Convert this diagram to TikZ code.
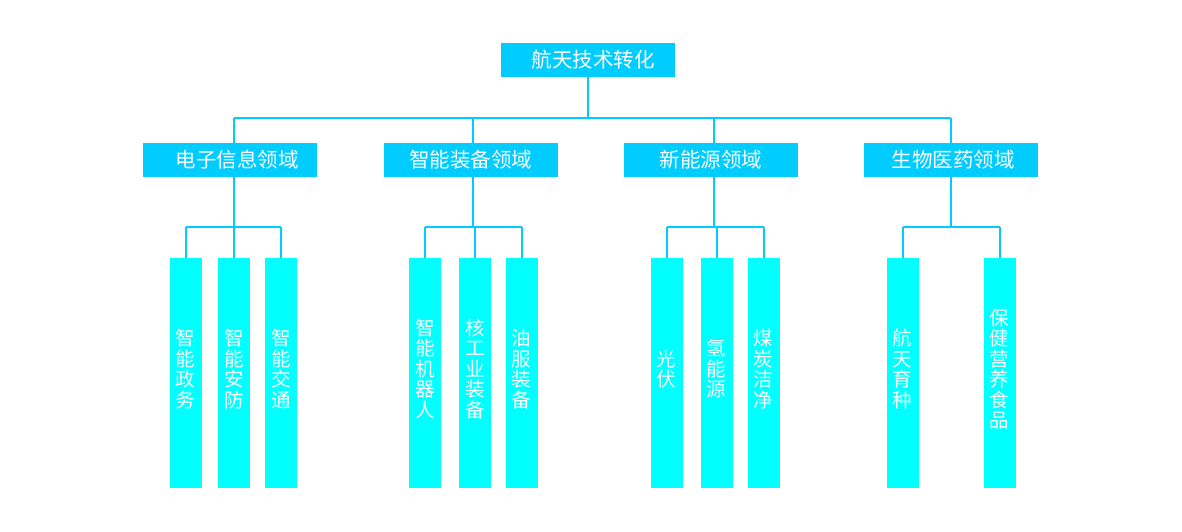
\documentclass[tikz,border=0pt]{standalone}
\usepackage{fontspec}
\setmainfont{Noto Sans CJK SC}
\definecolor{topc}{RGB}{0,204,255}
\definecolor{leafc}{RGB}{0,255,255}
\begin{document}
\begin{tikzpicture}[x=1pt,y=-1pt,
  hbox/.style={fill=topc,minimum width=174pt,minimum height=34pt,inner sep=0pt,text=white,font=\fontsize{20.5}{21}\selectfont},
  leaf/.style={fill=leafc,minimum width=32pt,minimum height=230pt,inner sep=0pt},
  vtext/.style={text=white,align=center,inner sep=0pt,font=\fontsize{19.5}{20.5}\selectfont},
  conn/.style={draw=topc,line width=2pt}]
\useasboundingbox (0,0) rectangle (1182,532);
% top
\node[hbox] (top) at (588,60) {\hspace*{10pt}航天技术转化};
% mid
\node[hbox] (m1) at (230,160) {\hspace*{14pt}电子信息领域};
\node[hbox] (m2) at (470.5,160) {智能装备领域};
\node[hbox] (m3) at (711,160) {新能源领域};
\node[hbox] (m4) at (951,160) {\hspace*{4pt}生物医药领域};
% coordinates
\coordinate (hub) at (588,118);
\coordinate (b1) at (234,118);
\coordinate (b2) at (473,118);
\coordinate (b3) at (714,118);
\coordinate (b4) at (951,118);
\coordinate (g) at (0,227);
% leaves
\foreach \n/\x/\t in {l11/185.5/智\\能\\政\\务, l12/234/智\\能\\安\\防, l13/281/智\\能\\交\\通,
  l21/425/智\\能\\机\\器\\人, l22/475/核\\工\\业\\装\\备, l23/521.5/油\\服\\装\\备,
  l31/666.5/光\\伏, l32/716.5/氢\\能\\源, l33/763.5/煤\\炭\\洁\\净,
  l41/902.5/航\\天\\育\\种, l42/999.5/保\\健\\营\\养\\食\\品}{
  \node[leaf] (\n) at (\x,373) {};
  \node[vtext] (\n t) at (\x,369) {\t};
}
% connectors
\draw[conn] (top.south) -- (hub);
\draw[conn] (b1) -- (b4);
\foreach \b/\m in {b1/m1,b2/m2,b3/m3,b4/m4}{
  \draw[conn] (\b) -- (\b |- \m.north);
  \draw[conn] (\b |- \m.south) -- (\b |- g);
}
\draw[conn] (l11.north |- g) -- (l13.north |- g);
\draw[conn] (l21.north |- g) -- (l23.north |- g);
\draw[conn] (l31.north |- g) -- (l33.north |- g);
\draw[conn] (l41.north |- g) -- (l42.north |- g);
\foreach \n in {l11,l12,l13,l21,l22,l23,l31,l32,l33,l41,l42}{
  \draw[conn] (\n.north |- g) -- (\n.north);
}
\end{tikzpicture}
\end{document}
